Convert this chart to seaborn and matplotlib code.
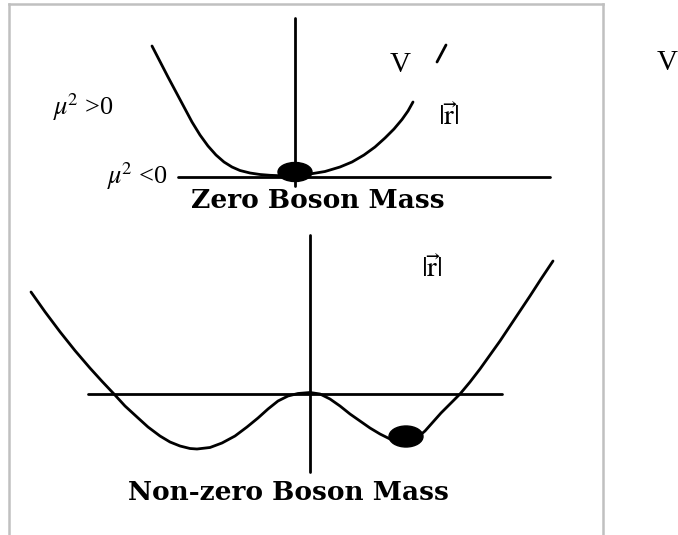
import matplotlib
matplotlib.use("Agg")
import matplotlib.pyplot as plt
from matplotlib.patches import Ellipse
import seaborn as sns

sns.set_theme(style="white")
plt.rcParams["font.family"] = ["Liberation Serif", "DejaVu Serif"]
plt.rcParams["mathtext.fontset"] = "stix"
plt.rcParams["text.color"] = "black"

# potential curves (1 unit = 10 px, origin at the crossing)
top_r = [-14.3, -13.5, -12.7, -11.9, -11.1, -10.3, -9.5, -8.7, -7.9, -7.1, -6.3,
         -5.5, -4.5, -3.5, -2.5, -1.3, 0.0, 1.5, 3.0, 4.5, 5.7, 6.9, 8.0, 9.0,
         9.9, 10.7, 11.3, 11.8]
top_v = [13.1, 11.55, 10.0, 8.5, 7.0, 5.5, 4.2, 3.1, 2.2, 1.5, 1.0,
         0.65, 0.4, 0.25, 0.17, 0.12, 0.12, 0.3, 0.55, 1.0, 1.5, 2.2, 3.0, 3.9,
         4.8, 5.75, 6.6, 7.5]
top_r2 = [14.2, 15.1]
top_v2 = [11.5, 13.2]

bot_r = [-27.9, -26.5, -25.0, -23.5, -22.0, -20.8, -19.6, -18.5, -17.3, -16.2, -15.0,
         -14.0, -13.0, -12.0, -11.3, -10.0, -8.8, -7.5, -6.3, -5.2, -4.2, -3.2, -2.2,
         -1.2, 0.0, 1.0, 2.0, 3.0, 4.0, 5.0, 6.0, 7.0, 8.0, 9.0, 10.0, 10.8, 11.5,
         12.3, 13.1, 14.0, 15.0, 16.0, 17.0, 18.0, 19.0, 20.0, 21.0, 22.0, 23.1, 24.3]
bot_v = [10.2, 8.22, 6.22, 4.34, 2.59, 1.27, 0.0, -1.2, -2.3, -3.3, -4.2,
         -4.8, -5.2, -5.45, -5.5, -5.35, -4.9, -4.2, -3.3, -2.4, -1.5, -0.7, -0.2,
         0.05, 0.15, 0.0, -0.5, -1.2, -2.0, -2.7, -3.4, -4.0, -4.5, -4.75, -4.7, -4.3, -3.7,
         -2.8, -1.9, -1.0, 0.0, 1.2, 2.5, 3.9, 5.3, 6.8, 8.3, 9.8, 11.5, 13.3]

# resting states of the field (ball positions and size)
top_ball = (0.0, 0.5)
top_ball_size = (3.4, 1.9)
bot_ball = (9.6, -4.25)
bot_ball_size = (3.4, 2.1)

# extents of the drawn V / |r| axes
top_xaxis = (-11.7, 25.5)
top_yaxis = (-0.9, 15.9)
bot_xaxis = (-22.2, 19.2)
bot_yaxis = (-7.8, 15.9)

W, H = 678, 535
fig = plt.figure(figsize=(W / 100, H / 100), dpi=100)

# grey frame around the two sketches
frame = fig.add_axes([9 / W, 0, 594 / W, 531 / H])
frame.set_xticks([])
frame.set_yticks([])
for side in ["left", "top", "right"]:
    frame.spines[side].set_color("#c0c0c0")
    frame.spines[side].set_linewidth(1.8)
frame.spines["bottom"].set_visible(False)

ax1 = fig.add_axes([45 / W, (H - 245) / H, 550 / W, 235 / H])
ax1.set_xlim(-25, 30)
ax1.set_ylim(-6.8, 16.7)
ax1.axis("off")

ax2 = fig.add_axes([15 / W, (H - 480) / H, 585 / W, 255 / H])
ax2.set_xlim(-29.5, 29.0)
ax2.set_ylim(-8.6, 16.9)
ax2.axis("off")

mu_pos = r"$\mu^{\!2}$ >0"
mu_neg = r"$\mu^{\!2}$ <0"
r_abs = r"$|\vec{\mathrm{r}}|$"

# top: mu^2 > 0
ax1.plot(top_xaxis, [0, 0], color="black", lw=2)
ax1.plot([0, 0], top_yaxis, color="black", lw=2)
sns.lineplot(x=top_r, y=top_v, ax=ax1, color="black", lw=2, sort=False, estimator=None)
sns.lineplot(x=top_r2, y=top_v2, ax=ax1, color="black", lw=2, sort=False, estimator=None)
ax1.add_patch(Ellipse(top_ball, *top_ball_size, color="black", zorder=5))

ax1.text(-24.2, 7.0, mu_pos, fontsize=19, ha="left", va="center")
ax1.text(-12.8, 0.1, mu_neg, fontsize=19, ha="right", va="center")
ax1.text(10.5, 11.2, "V", fontsize=21, ha="center", va="center")
ax1.text(15.4, 5.9, r_abs, fontsize=21, ha="center", va="center")
ax1.text(37.2, 11.4, "V", fontsize=21, ha="center", va="center")
ax1.text(2.3, -2.3, "Zero Boson Mass", fontsize=19, fontweight="bold",
         family="DejaVu Serif", ha="center", va="center")

# bottom: mu^2 < 0
ax2.plot(bot_xaxis, [0, 0], color="black", lw=2)
ax2.plot([0, 0], bot_yaxis, color="black", lw=2)
sns.lineplot(x=bot_r, y=bot_v, ax=ax2, color="black", lw=2, sort=False, estimator=None)
ax2.add_patch(Ellipse(bot_ball, *bot_ball_size, color="black", zorder=5))

ax2.text(12.2, 12.4, r_abs, fontsize=21, ha="center", va="center")
ax2.text(-2.2, -9.8, "Non-zero Boson Mass", fontsize=19, fontweight="bold",
         family="DejaVu Serif", ha="center", va="center")

fig.savefig("out.png", dpi=100)
